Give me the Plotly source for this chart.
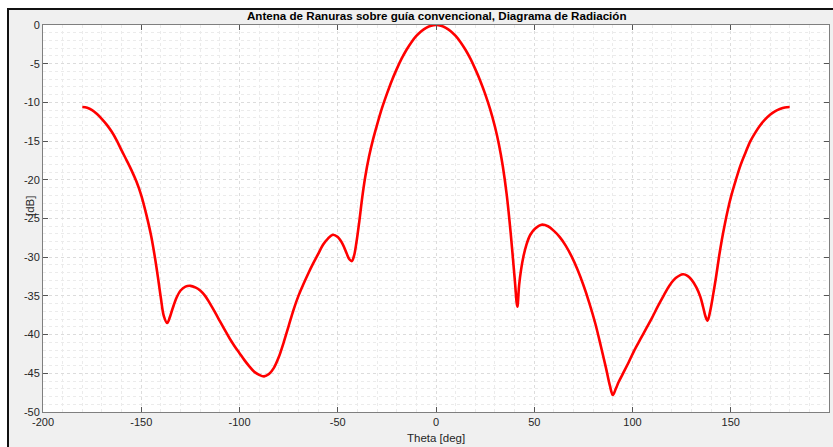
import plotly.graph_objects as go

# Radiation pattern of the slotted-waveguide antenna (normalised, dB)
theta_deg = [
    -180, -177.5, -175, -172.5, -170, -167.5, -165, -162.5, -160, -157.5, -155,
    -152.5, -150, -147.5, -145, -143, -141.5, -140, -138.5, -136.8, -135.5,
    -134, -132, -130, -127.5, -125, -122.5, -120, -117.5, -115, -112.5, -110,
    -107.5, -105, -102.5, -100, -97.5, -95, -92.5, -90, -87.5, -85, -82.5,
    -80, -77.5, -75, -72.5, -70, -67.5, -65, -62.5, -60, -57.5, -55, -52.5,
    -50, -47.5, -45.5, -44, -42.8, -41.7, -40.5, -39, -37.5, -36, -34, -32,
    -30, -27.5, -25, -22.5, -20, -17.5, -15, -12.5, -10, -7.5, -5, -2.5, 0,
    2.5, 5, 7.5, 10, 12.5, 15, 17.5, 20, 22.5, 25, 27.5, 30, 32,
    34, 36, 38, 40, 41.4, 42.3, 43.3, 44.5, 46, 48, 50.5, 53.7, 57, 60, 63,
    66, 69, 72, 75, 78, 81, 84, 86.5, 88.5, 90, 91.5, 93, 95, 98, 101, 104,
    107, 110, 113, 116, 119, 122, 125.7, 128, 130, 132.5, 134.5, 136, 137.2,
    138.2, 139.5, 141, 142.5, 144, 145.5, 147, 148.5, 150, 152.5, 155, 157.5,
    160, 162.5, 165, 167.5, 170, 172.5, 175, 177.5, 180,
]
gain_db = [
    -10.6, -10.7, -11.0, -11.5, -12.15, -12.9, -13.8, -14.9, -16.2, -17.45, -18.75,
    -20.2, -22.0, -24.4, -27.2, -30.1, -32.6, -35.3, -37.6, -38.5, -37.8,
    -36.6, -35.2, -34.3, -33.8, -33.7, -33.9, -34.3, -35.0, -36.0, -37.1, -38.25,
    -39.4, -40.5, -41.5, -42.4, -43.3, -44.1, -44.8, -45.2, -45.4, -45.1, -44.3,
    -42.9, -41.0, -38.9, -36.8, -35.0, -33.5, -32.1, -30.8, -29.6, -28.4, -27.6, -27.1,
    -27.4, -28.3, -29.5, -30.3, -30.5, -29.8, -28.1, -25.3, -22.2, -19.6, -16.9, -14.75,
    -12.9, -10.75, -8.9, -7.19, -5.7, -4.35, -3.2, -2.22, -1.42, -0.8, -0.36, -0.09, 0.0,
    -0.09, -0.36, -0.8, -1.42, -2.22, -3.2, -4.35, -5.7, -7.19, -8.9, -10.85, -13.15, -15.4,
    -18.25, -21.95, -26.85, -32.65, -36.4, -33.6, -31.6, -29.9, -28.4, -27.1, -26.3, -25.8, -26.0, -26.6, -27.4,
    -28.5, -29.9, -31.6, -33.6, -35.9, -38.5, -41.6, -44.3, -46.6, -47.8, -47.0, -46.1, -45.1, -43.6, -42.0, -40.6,
    -39.2, -37.8, -36.3, -34.9, -33.6, -32.7, -32.2, -32.4, -32.9, -33.9, -35.1, -36.5, -37.7,
    -38.2, -37.0, -34.9, -32.6, -30.0, -27.7, -25.7, -23.9, -22.3, -20.1, -18.1, -16.5,
    -15.0, -13.9, -12.95, -12.2, -11.6, -11.15, -10.85, -10.65, -10.6,
]

x_ticks = [-200, -150, -100, -50, 0, 50, 100, 150, 200]
y_ticks = [0, -5, -10, -15, -20, -25, -30, -35, -40, -45, -50]

title_text = "Antena de Ranuras sobre guía convencional, Diagrama de Radiación"
x_title = "Theta [deg]"
y_title = "[dB]"

W, H = 833, 447
M_L, M_R, M_T, M_B = 43, 4, 25, 35
PW, PH = W - M_L - M_R, H - M_T - M_B


def px_x(px):
    return (px - M_L) / PW


def px_y(py):
    return (H - M_B - py) / PH


AXIS_COL = "#262626"
FONT = "Liberation Sans, Arial, sans-serif"

fig = go.Figure()
fig.add_trace(go.Scatter(
    x=theta_deg, y=gain_db, mode="lines",
    line=dict(color="#ff0000", width=2.6, shape="spline", smoothing=1.0),
    hoverinfo="x+y", showlegend=False,
))

axis_common = dict(
    showline=True, linecolor="#7f7f7f", linewidth=1, mirror="ticks",
    ticks="inside", ticklen=5, tickcolor="#555555", tickwidth=1,
    showgrid=True, gridcolor="#dcdcdc", griddash="dot", gridwidth=1,
    zeroline=False,
    tickfont=dict(family=FONT, size=11, color=AXIS_COL),
)

fig.update_xaxes(
    range=[-200, 200], tickvals=x_ticks, ticktext=[str(v) for v in x_ticks],
    minor=dict(dtick=10, showgrid=True, gridcolor="#ebebeb", griddash="dot", ticks=""),
    **axis_common,
)
fig.update_yaxes(
    range=[-50, 0], tickvals=y_ticks, ticktext=[str(v) for v in y_ticks],
    minor=dict(dtick=1, showgrid=True, gridcolor="#ebebeb", griddash="dot", ticks=""),
    **axis_common,
)

# window frame: white strip outside, black edge on the left and top
shapes = [
    dict(type="rect", xref="paper", yref="paper",
         x0=px_x(-5), x1=px_x(7), y0=px_y(H + 5), y1=px_y(-5),
         fillcolor="white", line_width=0, layer="above"),
    dict(type="rect", xref="paper", yref="paper",
         x0=px_x(-5), x1=px_x(W + 5), y0=px_y(8), y1=px_y(-5),
         fillcolor="white", line_width=0, layer="above"),
    dict(type="line", xref="paper", yref="paper",
         x0=px_x(8), x1=px_x(8), y0=px_y(H + 5), y1=px_y(8),
         line=dict(color="#111111", width=2), layer="above"),
    dict(type="line", xref="paper", yref="paper",
         x0=px_x(7), x1=px_x(W + 5), y0=px_y(9), y1=px_y(9),
         line=dict(color="#111111", width=2), layer="above"),
]

annotations = [
    dict(text=f"<b>{title_text}</b>", xref="paper", yref="paper",
         x=px_x(436), y=px_y(16), showarrow=False,
         font=dict(family=FONT, size=11.6, color="#000000"),
         xanchor="center", yanchor="middle"),
    dict(text=x_title, xref="paper", yref="paper",
         x=px_x(436), y=px_y(438), showarrow=False,
         font=dict(family=FONT, size=11.5, color=AXIS_COL),
         xanchor="center", yanchor="middle"),
    dict(text=y_title, xref="paper", yref="paper",
         x=px_x(30), y=px_y(206), showarrow=False, textangle=-90,
         font=dict(family=FONT, size=11.5, color=AXIS_COL),
         xanchor="center", yanchor="middle"),
]

fig.update_layout(
    width=W, height=H,
    margin=dict(l=M_L, r=M_R, t=M_T, b=M_B, pad=0),
    paper_bgcolor="#f0f0f0", plot_bgcolor="#ffffff",
    shapes=shapes, annotations=annotations,
    font=dict(family=FONT, size=11, color=AXIS_COL),
)

fig.write_html("out.html")
